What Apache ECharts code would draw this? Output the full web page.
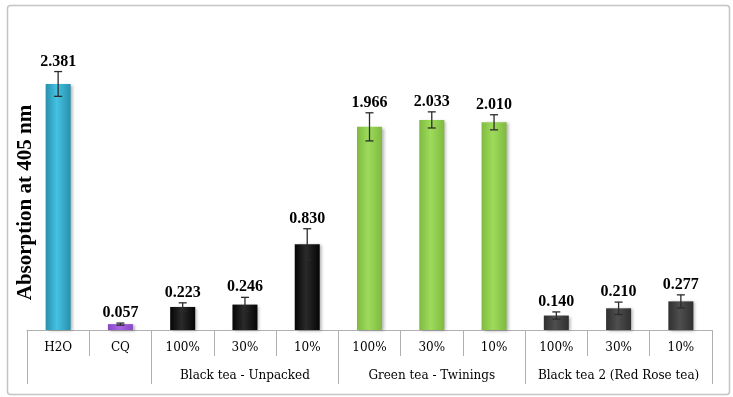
<!DOCTYPE html>
<html>
<head>
<meta charset="utf-8">
<script src="https://cdn.jsdelivr.net/npm/echarts@6/dist/echarts.min.js"></script>
<style>
  html, body { margin: 0; padding: 0; background: #fff; }
  #chart { width: 733px; height: 397px; }
</style>
</head>
<body>
<div id="chart"></div>
<script>
// samples and their group row
const categories = ["H2O", "CQ", "100%", "30%", "10%", "100%", "30%", "10%", "100%", "30%", "10%"];
const groupLabels = ["", "", "", "Black tea - Unpacked", "", "", "Green tea - Twinings", "", "", "Black tea 2 (Red Rose tea)", ""];
const groupEdges = [0, 2, 5, 8]; // first category of each group cell
const absorbance = [2.381, 0.057, 0.223, 0.246, 0.830, 1.966, 2.033, 2.010, 0.140, 0.210, 0.277];
const errors = [0.12, 0.01, 0.04, 0.07, 0.15, 0.136, 0.078, 0.073, 0.035, 0.06, 0.063];

// colour per bar: [edge, middle]
const barColors = [
  ["#2790ad", "#45c2e2"],
  ["#8a45c4", "#a866e6"],
  ["#050505", "#2a2a2a"],
  ["#050505", "#2a2a2a"],
  ["#050505", "#2a2a2a"],
  ["#7fba3f", "#9edb5c"],
  ["#7fba3f", "#9edb5c"],
  ["#7fba3f", "#9edb5c"],
  ["#303030", "#4e4e4e"],
  ["#303030", "#4e4e4e"],
  ["#303030", "#4e4e4e"]
];

const serif = '"Liberation Serif", "Times New Roman", serif';
const tickFont = '"DejaVu Serif", serif';

const chart = echarts.init(document.getElementById("chart"));

const barData = absorbance.map((v, i) => ({
  value: v,
  itemStyle: {
    color: new echarts.graphic.LinearGradient(0, 0, 1, 0, [
      { offset: 0, color: barColors[i][0] },
      { offset: 0.45, color: barColors[i][1] },
      { offset: 1, color: barColors[i][0] }
    ])
  }
}));

const errData = absorbance.map((v, i) => [i, v, errors[i]]);

const option = {
  animation: false,
  backgroundColor: "#fff",
  graphic: [
    {
      type: "rect",
      left: 5,
      top: 3,
      shape: { width: 722, height: 389, r: 3 },
      style: { fill: "none", stroke: "#c4c4c4", lineWidth: 1.5 },
      silent: true
    }
  ],
  grid: { left: 27, right: 21, top: 20, bottom: 67 },
  xAxis: [
    {
      type: "category",
      data: categories,
      position: "bottom",
      axisLine: { lineStyle: { color: "#b0b0b0", width: 1 } },
      axisTick: { show: true, length: 26, interval: 0, lineStyle: { color: "#b0b0b0" } },
      axisLabel: { interval: 0, margin: 12, fontFamily: tickFont, fontSize: 12, color: "#000" }
    },
    {
      type: "category",
      data: groupLabels,
      position: "bottom",
      axisLine: { show: false },
      axisTick: {
        show: true,
        length: 54,
        interval: (idx) => groupEdges.includes(idx),
        lineStyle: { color: "#b0b0b0" }
      },
      axisLabel: { interval: 0, margin: 40, fontFamily: tickFont, fontSize: 12, color: "#000" }
    }
  ],
  yAxis: {
    type: "value",
    min: 0,
    max: 3,
    axisLine: { show: false },
    axisTick: { show: false },
    axisLabel: { show: false },
    splitLine: { show: false },
    name: "Absorption at 405 nm",
    nameLocation: "middle",
    nameGap: -9,
    nameTextStyle: {
      fontFamily: serif,
      fontWeight: "bold",
      fontSize: 21,
      color: "#000",
      padding: [0, 55, 0, 0]
    }
  },
  series: [
    {
      type: "bar",
      data: barData,
      barWidth: 25,
      itemStyle: {
        shadowColor: "rgba(0,0,0,0.3)",
        shadowBlur: 3,
        shadowOffsetX: 2,
        shadowOffsetY: 1
      }
    },
    {
      // error bars with the value written above them
      type: "custom",
      data: errData,
      z: 3,
      renderItem: (params, api) => {
        const x = api.value(0);
        const v = api.value(1);
        const e = api.value(2);
        const hi = api.coord([x, v + e]);
        const lo = api.coord([x, v - e]);
        const cap = 4;
        const st = { stroke: "#2b2b2b", lineWidth: 1.3 };
        return {
          type: "group",
          children: [
            { type: "line", shape: { x1: hi[0], y1: hi[1], x2: lo[0], y2: lo[1] }, style: st },
            { type: "line", shape: { x1: hi[0] - cap, y1: hi[1], x2: hi[0] + cap, y2: hi[1] }, style: st },
            { type: "line", shape: { x1: lo[0] - cap, y1: lo[1], x2: lo[0] + cap, y2: lo[1] }, style: st },
            {
              type: "text",
              x: hi[0],
              y: hi[1] - 2,
              style: {
                text: v.toFixed(3),
                align: "center",
                verticalAlign: "bottom",
                font: "bold 16px " + serif,
                fill: "#000"
              }
            }
          ]
        };
      }
    }
  ]
};

chart.setOption(option);
</script>
</body>
</html>
